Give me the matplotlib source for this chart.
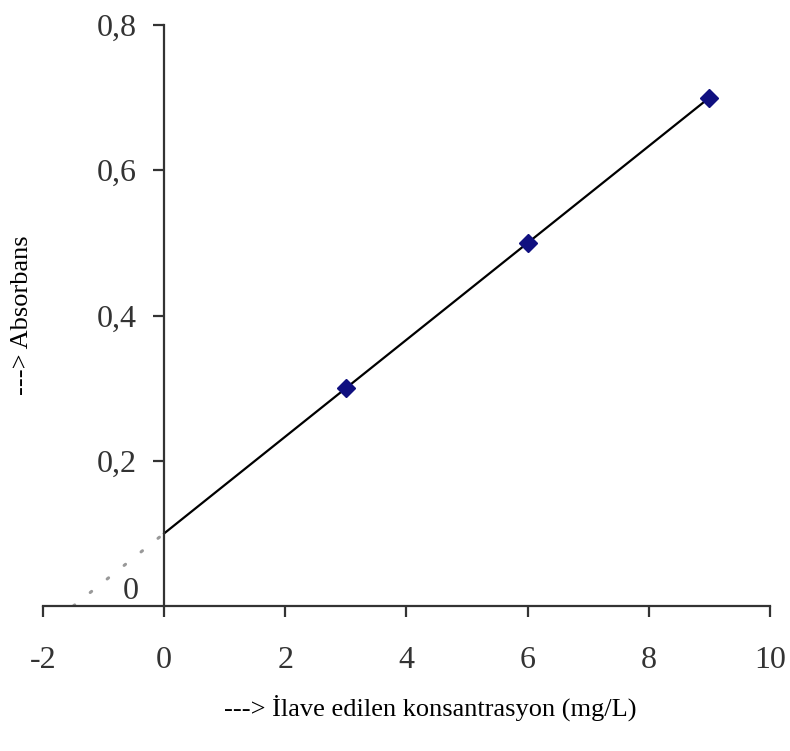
import matplotlib
matplotlib.use("Agg")
import matplotlib.pyplot as plt

plt.rcParams['font.family'] = ['Liberation Serif', 'DejaVu Serif']

# Veriler (standart ekleme yöntemi)
ilave = [3, 6, 9]
absorbans = [0.3, 0.5, 0.7]
dogru_x = [0, 9]
dogru_y = [0.1, 0.7]
uzatma_x = [-1.5, 0]
uzatma_y = [0.0, 0.1]

x_ticks = [-2, 0, 2, 4, 6, 8, 10]
y_ticks = [0.2, 0.4, 0.6, 0.8]
y_etiket = ['0,2', '0,4', '0,6', '0,8']

fig = plt.figure(figsize=(7.9, 7.51), dpi=100)
ax = fig.add_axes([0.0544, 0.193, 0.9203, 0.7737])

ax.plot(dogru_x, dogru_y, color='black', lw=1.6, zorder=2)
ax.plot(uzatma_x, uzatma_y, color='#999999', lw=2.2, linestyle=(0, (0.6, 6.5)),
        dash_capstyle='round', zorder=2)
ax.plot(ilave, absorbans, linestyle='none', marker='D', markersize=9,
        color='#101080', zorder=3)

ax.set_xlim(-2, 10)
ax.set_ylim(0, 0.8)

# eksenler orijinden geçsin
ax.spines['left'].set_position(('data', 0))
ax.spines['bottom'].set_position(('data', 0))
ax.spines['right'].set_visible(False)
ax.spines['top'].set_visible(False)
for s in ['left', 'bottom']:
    ax.spines[s].set_linewidth(1.6)
    ax.spines[s].set_color('#333333')

ax.set_xticks(x_ticks)
ax.set_xticklabels([str(t) for t in x_ticks])
ax.set_yticks(y_ticks)
ax.set_yticklabels(y_etiket)
ax.tick_params(axis='both', direction='out', length=8, width=1.6,
               colors='#333333', labelsize=23, labelcolor='#333333')
ax.tick_params(axis='x', pad=21)
ax.tick_params(axis='y', pad=12)

# y ekseninin "0" etiketi
ax.text(-0.55, 0.0, '0', fontsize=23, color='#333333', ha='center', va='bottom')

fig.text(0.544, 0.057, '---> İlave edilen konsantrasyon (mg/L)', fontsize=19,
         ha='center', va='center', color='black')
fig.text(0.028, 0.58, '---> Absorbans', fontsize=19, rotation=90,
         ha='center', va='center', color='black')

fig.savefig('out.png', dpi=100)
